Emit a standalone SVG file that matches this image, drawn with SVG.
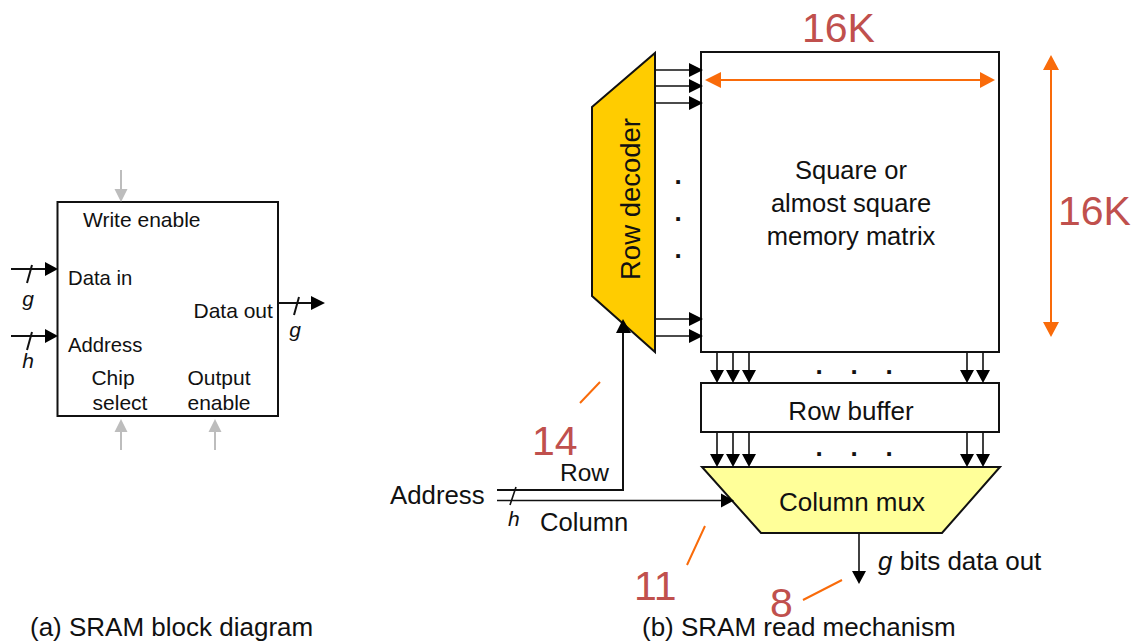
<svg xmlns="http://www.w3.org/2000/svg" width="1136" height="642" viewBox="0 0 1136 642">
<style>
text{font-family:"Liberation Sans",Arial,sans-serif;fill:#111}
.s{font-size:21px}.n{font-size:20.300px}.m{font-size:25.500px}.c{font-size:25.800px}.w{font-size:26px}
.r{font-size:41px;fill:#c0504d}
.i{font-style:italic}
.e{text-anchor:middle}
.d{font-size:26px;font-weight:bold;text-anchor:middle}
.b{fill:#fff;stroke:#111;stroke-width:2}
.l{fill:none;stroke:#111;stroke-width:2}
.t{fill:none;stroke:#111;stroke-width:1.600}
.g{fill:none;stroke:#bdbdbd;stroke-width:2}
.o{fill:none;stroke:#f96b0a;stroke-width:2}
.ka{fill:#000}.kg{fill:#bdbdbd}.ko{fill:#f96b0a}
</style>
<rect width="1136" height="642" fill="#fff"/>
<g id="sram-block">
<rect class="b" x="57.500" y="202" width="220.500" height="214"/>
<text class="s" x="83" y="226.500">Write enable</text>
<text class="n" x="68" y="284.500">Data in</text>
<text class="s" x="193.500" y="318">Data out</text>
<text class="n" x="68" y="351.500">Address</text>
<text class="s e" x="113" y="385">Chip</text>
<text class="s e" x="120" y="410">select</text>
<text class="s e" x="219" y="385">Output</text>
<text class="s e" x="219" y="410">enable</text>
</g>
<g id="row-decoder">
<path d="M592 107 655 53V352L592 296Z" fill="#ffcc00" stroke="#111" stroke-width="2"/>
<text class="e" font-size="27.500" transform="translate(640 199) rotate(-90)">Row decoder</text>
</g>
<g id="memory-matrix">
<rect class="b" x="701" y="52" width="298" height="300"/>
<text class="m e" x="851" y="179">Square or</text>
<text class="m e" x="851" y="212">almost square</text>
<text class="m e" x="851" y="245">memory matrix</text>
</g>
<g id="row-buffer">
<rect class="b" x="701" y="383" width="298" height="49"/>
<text class="w e" x="851" y="420">Row buffer</text>
</g>
<g id="column-mux">
<path d="M702 467H1000L942 533H761Z" fill="#ffff99" stroke="#111" stroke-width="2"/>
<text class="w e" x="852" y="511">Column mux</text>
</g>
<g id="connectors">
<path class="g" d="M121 170V190M121 450V431M215 450V431"/>
<path class="kg" d="M114.500 189H127.500L121 202ZM114.500 432H127.500L121 419ZM208.500 432H221.500L215 419Z"/>
<path class="l" d="M11 269H46M11 336H46M278 303H312M27 283 32 265M27 350 32 332M294 315 299 297"/>
<path class="ka" d="M45 262V276L58 269ZM45 329V343L58 336ZM311 296V310L325 303Z"/>
<path class="t" d="M655 70H690M655 86H690M655 103H690M655 319H690M655 336H690"/>
<path class="ka" d="M689 63V77L703 70ZM689 79V93L703 86ZM689 96V110L703 103ZM689 312V326L703 319ZM689 329V343L703 336Z"/>
<path class="t" d="M717 352V372M733 352V372M749 352V372M967 352V372M983 352V372M717 432V456M733 432V456M749 432V456M967 432V456M983 432V456"/>
<path class="ka" d="M710 370H724L717 383ZM726 370H740L733 383ZM742 370H756L749 383ZM960 370H974L967 383ZM976 370H990L983 383ZM710 454H724L717 467ZM726 454H740L733 467ZM742 454H756L749 467ZM960 454H974L967 467ZM976 454H990L983 467Z"/>
<path class="l" d="M497 490H623V332"/>
<path class="ka" d="M616 333H631L623 319Z"/>
<path class="t" d="M497 500.500H722M510 505 516 487"/>
<path class="ka" d="M721 493.500V507.500L734 500.500Z"/>
<path class="t" d="M859 533V572"/>
<path class="ka" d="M852 571H866L859 584Z"/>
<path class="o" d="M720 80H982M1051 70V324M600 382 580 403M705 526 687 565M842 580 803 600"/>
<path class="ko" d="M721 72V88L705 80ZM980 72V88L995 80ZM1043 70H1059L1051 55ZM1043 322H1059L1051 337Z"/>
</g>
<g id="labels">
<text class="s i e" x="28" y="306">g</text>
<text class="s i e" x="28" y="368">h</text>
<text class="s i e" x="295" y="337">g</text>
<text class="d" x="678" y="184">.</text>
<text class="d" x="678" y="221">.</text>
<text class="d" x="678" y="258">.</text>
<text class="d" x="819" y="374">.</text>
<text class="d" x="854" y="374">.</text>
<text class="d" x="889" y="374">.</text>
<text class="d" x="819" y="456">.</text>
<text class="d" x="854" y="456">.</text>
<text class="d" x="889" y="456">.</text>
<text class="r" x="802" y="42">16K</text>
<text class="r" x="1058" y="225">16K</text>
<text class="r" x="532" y="455">14</text>
<text class="r" x="634" y="600">11</text>
<text class="r" x="770" y="617">8</text>
<text class="c" x="390" y="503.500">Address</text>
<text font-size="24.500" x="560" y="481">Row</text>
<text font-size="25.600" x="540" y="531">Column</text>
<text class="s i" x="508" y="526">h</text>
<text class="w" x="878" y="570"><tspan class="i">g</tspan> bits data out</text>
<text class="w" x="30" y="636">(a) SRAM block diagram</text>
<text class="w" x="642" y="636">(b) SRAM read mechanism</text>
</g>
</svg>
